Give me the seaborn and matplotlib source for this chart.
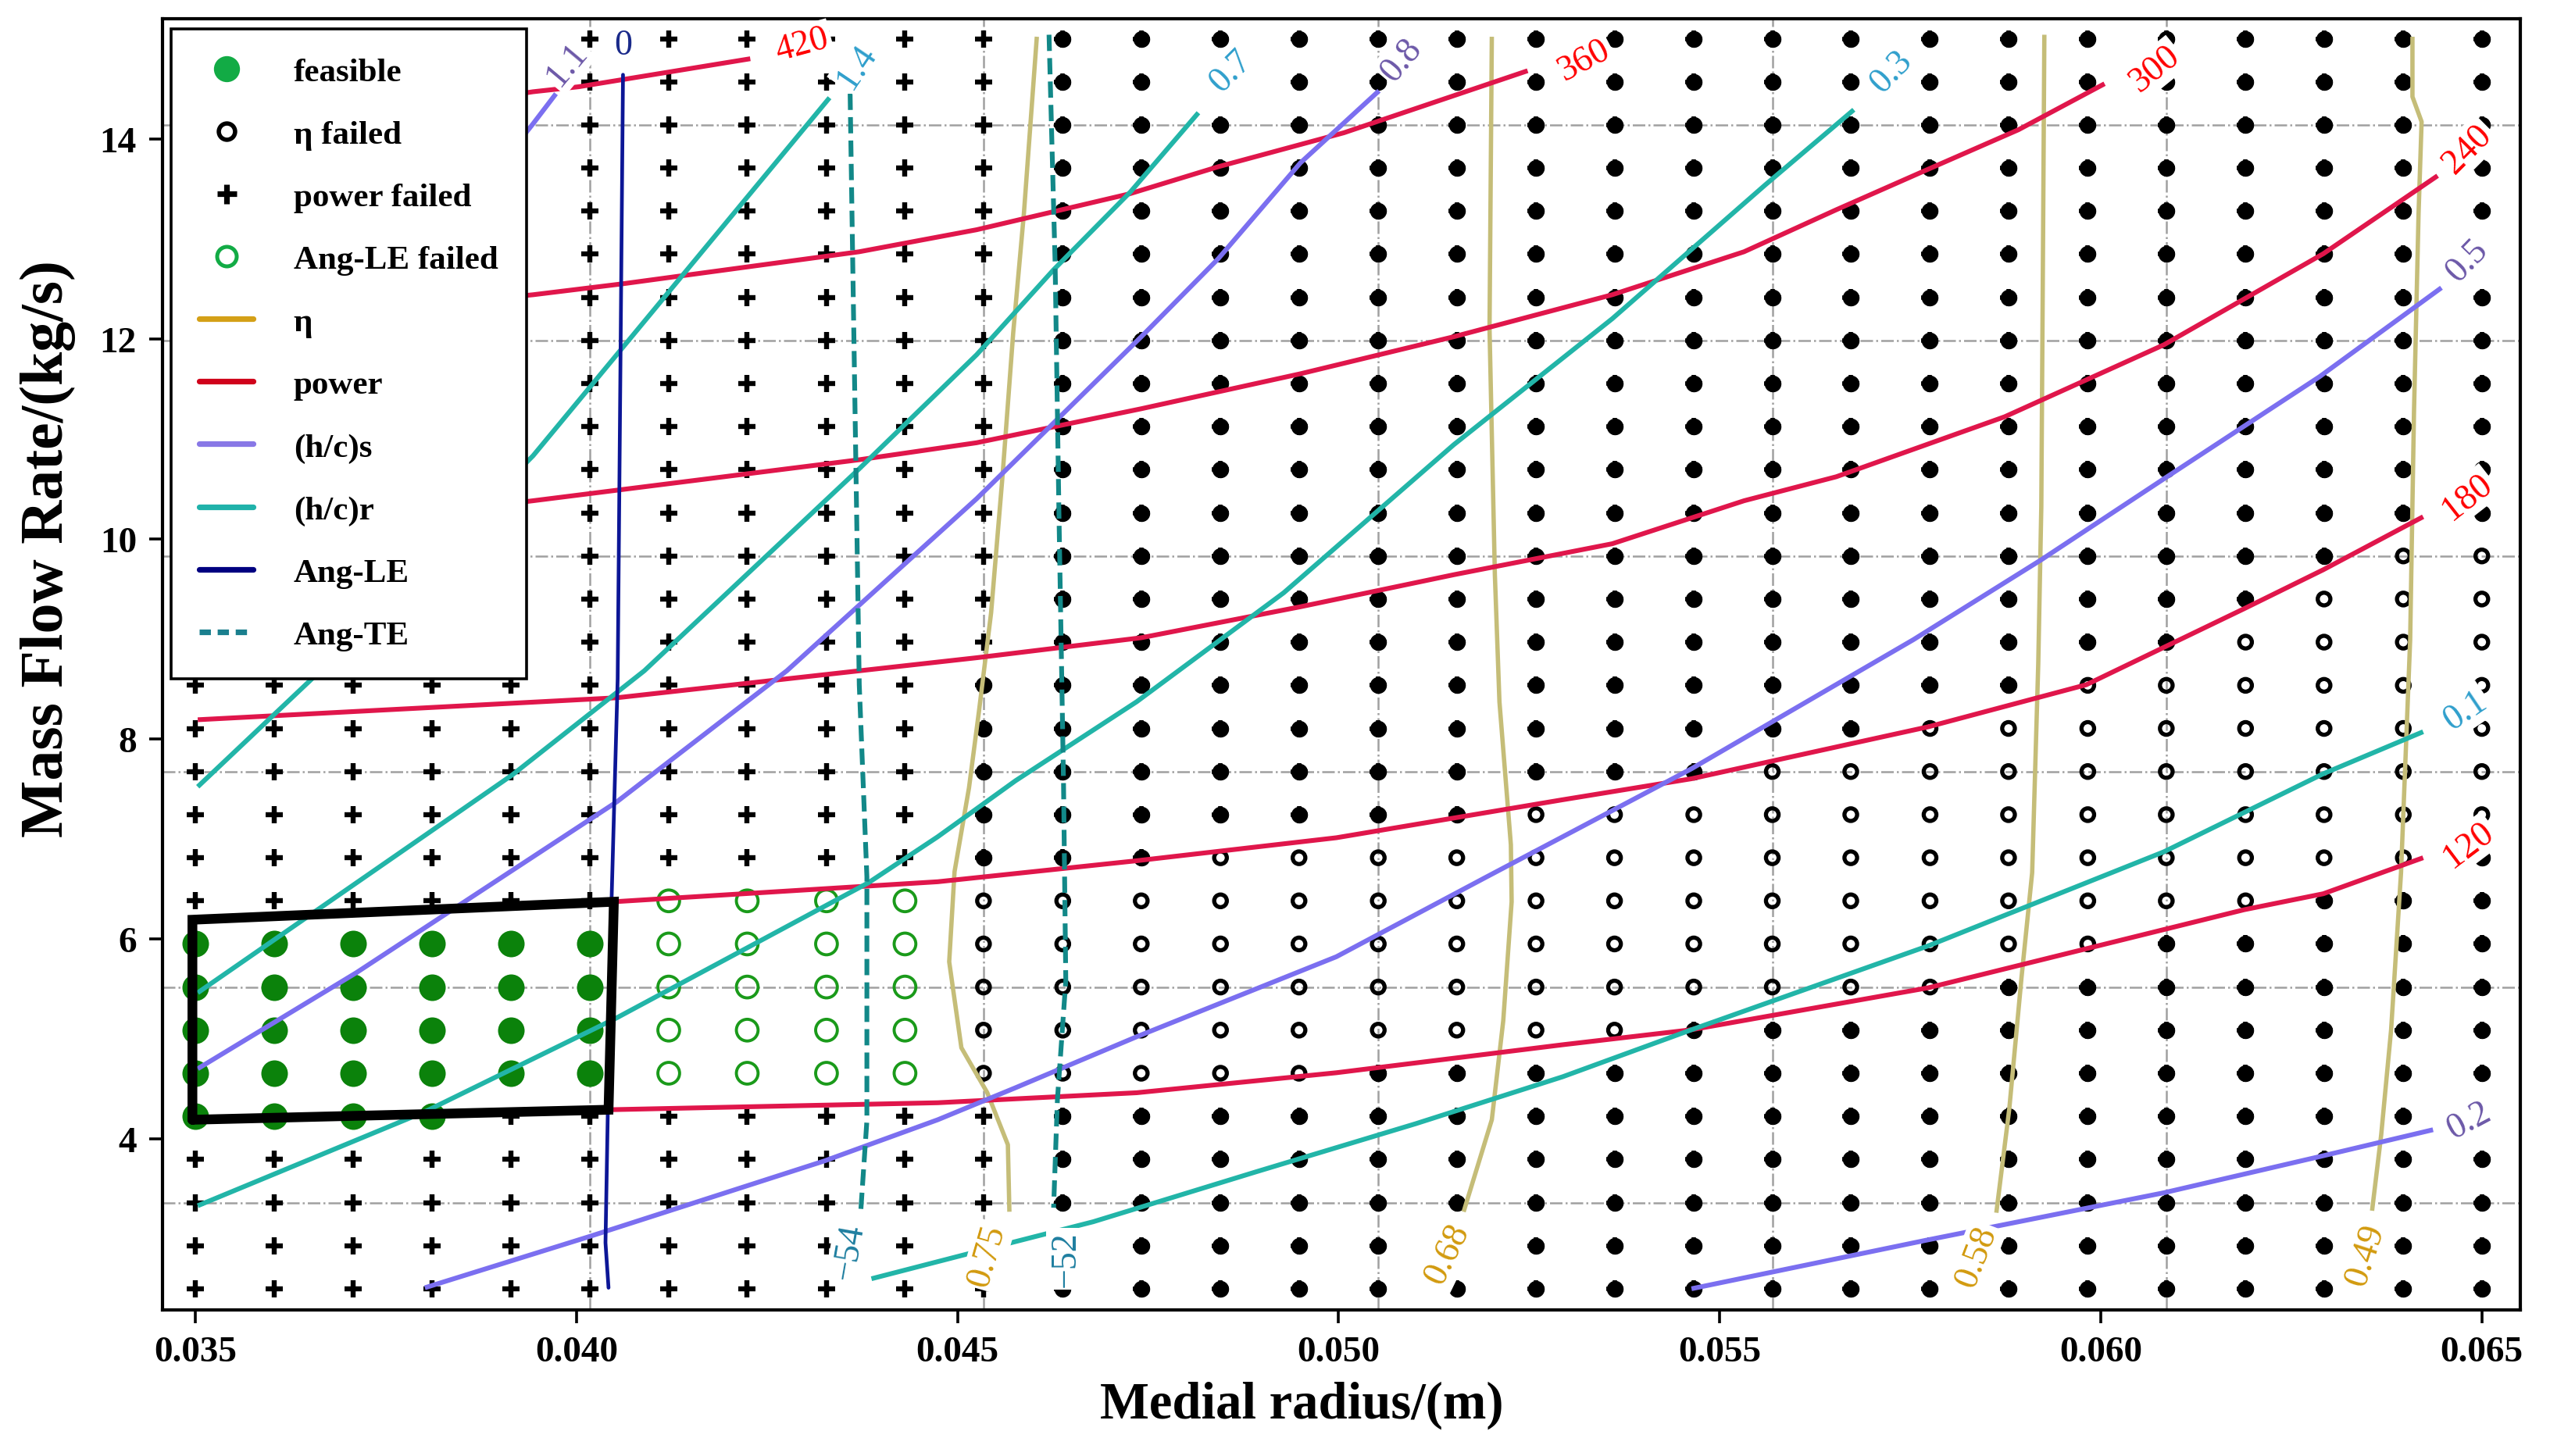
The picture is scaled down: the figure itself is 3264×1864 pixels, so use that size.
import numpy as np
import pandas as pd
import matplotlib
matplotlib.use("Agg")
import matplotlib.pyplot as plt
from matplotlib.lines import Line2D
import seaborn as sns


# =========================
# 1. grid of design points
# =========================
RADIUS = [0.03500, 0.03603, 0.03707, 0.03810, 0.03914, 0.04017, 0.04121, 0.04224,
          0.04328, 0.04431, 0.04534, 0.04638, 0.04741, 0.04845, 0.04948, 0.05052,
          0.05155, 0.05259, 0.05362, 0.05466, 0.05569, 0.05672, 0.05776, 0.05879,
          0.05983, 0.06086, 0.06190, 0.06293, 0.06397, 0.06500]
MASS_FLOW = [2.500, 2.931, 3.362, 3.793, 4.224, 4.655, 5.086, 5.517, 5.948, 6.379,
             6.810, 7.241, 7.672, 8.103, 8.534, 8.966, 9.397, 9.828, 10.259, 10.690,
             11.121, 11.552, 11.983, 12.414, 12.845, 13.276, 13.707, 14.138, 14.569, 15.000]

# status of each point, top row (15 kg/s) first, radius left -> right
# F feasible, E eta failed, P power failed, A Ang-LE failed, B eta + power failed
STATUS_ROWS = [
    "PPPPPPPPPPPBBBBBBBBBBBBBBBBBBB",
    "PPPPPPPPPPPBBBBBBBBBBBBBBBBBBB",
    "PPPPPPPPPPPBBBBBBBBBBBBBBBBBBB",
    "PPPPPPPPPPPBBBBBBBBBBBBBBBBBBB",
    "PPPPPPPPPPPBBBBBBBBBBBBBBBBBBB",
    "PPPPPPPPPPPBBBBBBBBBBBBBBBBBBB",
    "PPPPPPPPPPPBBBBBBBBBBBBBBBBBBB",
    "PPPPPPPPPPPBBBBBBBBBBBBBBBBBBB",
    "PPPPPPPPPPPBBBBBBBBBBBBBBBBBBB",
    "PPPPPPPPPPPBBBBBBBBBBBBBBBBBBB",
    "PPPPPPPPPPPBBBBBBBBBBBBBBBBBBB",
    "PPPPPPPPPPPBBBBBBBBBBBBBBBBBBB",
    "PPPPPPPPPPPBBBBBBBBBBBBBBBBBEE",
    "PPPPPPPPPPPBBBBBBBBBBBBBBBBEEE",
    "PPPPPPPPPPPBBBBBBBBBBBBBBBEEEE",
    "PPPPPPPPPPBBBBBBBBBBBBBBEEEEEE",
    "PPPPPPPPPPBBBBBBBBBBBBEEEEEEEE",
    "PPPPPPPPPPBBBBBBBBBBEEEEEEEEEE",
    "PPPPPPPPPPBBBBBBBEEEEEEEEEEEEE",
    "PPPPPPPPPPBBBEEEEEEEEEEEEEEEEB",
    "PPPPPPAAAAEEEEEEEEEEEEEEEEEBBB",
    "FFFFFFAAAAEEEEEEEEEEEEEEEBBBBB",
    "FFFFFFAAAAEEEEEEEEEEEEEBBBBBBB",
    "FFFFFFAAAAEEEEEEEEEBBBBBBBBBBB",
    "FFFFFFAAAAEEEEEBBBBBBBBBBBBBBB",
    "FFFFPPPPPPPBBBBBBBBBBBBBBBBBBB",
    "PPPPPPPPPPPBBBBBBBBBBBBBBBBBBB",
    "PPPPPPPPPPPBBBBBBBBBBBBBBBBBBB",
    "PPPPPPPPPPPBBBBBBBBBBBBBBBBBBB",
    "PPPPPPPPPPPBBBBBBBBBBBBBBBBBBB",
]

# =========================
# 2. contour lines
# =========================
POWER_LEVELS = ["420", "360", "300", "240", "180", "120"]
POWER_X = [
    [0.0350, 0.03735, 0.03943, 0.04003, 0.04228],
    [0.0350, 0.03943, 0.04061, 0.04371, 0.04525, 0.04726, 0.04842, 0.05007, 0.05248],
    [0.0350, 0.03943, 0.04371, 0.04525, 0.04741, 0.04950, 0.05151, 0.05359, 0.05532,
     0.05653, 0.05772, 0.05892, 0.06005],
    [0.03503, 0.04053, 0.04525, 0.04741, 0.04950, 0.05151, 0.05359, 0.05532, 0.05653,
     0.05874, 0.06083, 0.06292, 0.06442],
    [0.0350, 0.04049, 0.04474, 0.04735, 0.04997, 0.05294, 0.05463, 0.05774, 0.05981,
     0.06188, 0.06292, 0.06423],
    [0.0350, 0.04042, 0.04474, 0.04735, 0.04997, 0.05294, 0.05463, 0.05774, 0.05981,
     0.06188, 0.06292, 0.06423],
]
POWER_Y = [
    [13.97, 14.23, 14.47, 14.52, 14.80],
    [12.10, 12.44, 12.55, 12.87, 13.09, 13.45, 13.72, 14.06, 14.68],
    [9.97, 10.38, 10.79, 10.96, 11.30, 11.65, 12.02, 12.44, 12.87, 13.29, 13.69, 14.09, 14.55],
    [8.19, 8.41, 8.81, 9.01, 9.32, 9.64, 9.95, 10.38, 10.62, 11.22, 11.94, 12.85, 13.63],
    [6.19, 6.37, 6.57, 6.78, 7.01, 7.39, 7.60, 8.12, 8.54, 9.30, 9.69, 10.22],
    [4.19, 4.29, 4.36, 4.46, 4.66, 4.94, 5.09, 5.51, 5.90, 6.29, 6.45, 6.81],
]

HCS_LEVELS = ["1.1", "0.8", "0.5", "0.2"]
HCS_X = [
    [0.0350, 0.03735, 0.03943, 0.03973],
    [0.03503, 0.03711, 0.04053, 0.04276, 0.04525, 0.04741, 0.04842, 0.04950, 0.05053],
    [0.03801, 0.04016, 0.04326, 0.04474, 0.04576, 0.04735, 0.04997, 0.05192, 0.05294,
     0.05463, 0.05754, 0.05922, 0.06083, 0.06287, 0.06447],
    [0.05463, 0.05774, 0.06083, 0.06292, 0.06436],
]
HCS_Y = [
    [10.11, 12.16, 14.15, 14.45],
    [4.70, 5.66, 7.37, 8.68, 10.40, 12.02, 12.80, 13.76, 14.48],
    [2.51, 3.02, 3.78, 4.19, 4.51, 5.02, 5.82, 6.61, 7.02, 7.70, 8.99, 9.79, 10.60, 11.62, 12.51],
    [2.50, 2.99, 3.46, 3.83, 4.09],
]

HCR_LEVELS = ["1.4", "0.7", "0.3", "0.1"]
HCR_X = [
    [0.03503, 0.03664, 0.03943, 0.04332],
    [0.03503, 0.03916, 0.04089, 0.04371, 0.04525, 0.04626, 0.04727, 0.04816],
    [0.03503, 0.03801, 0.04053, 0.04383, 0.04474, 0.04576, 0.04735, 0.04928, 0.05151,
     0.05359, 0.05560, 0.05676],
    [0.04387, 0.04509, 0.04565, 0.04678, 0.04892, 0.05101, 0.05294, 0.05463, 0.05774,
     0.06083, 0.06292, 0.06423],
]
HCR_Y = [
    [7.52, 8.68, 10.83, 14.41],
    [5.46, 7.64, 8.68, 10.70, 11.84, 12.69, 13.47, 14.26],
    [3.33, 4.27, 5.21, 6.56, 7.02, 7.58, 8.37, 9.46, 10.94, 12.20, 13.54, 14.29],
    [2.60, 2.84, 2.95, 3.17, 3.67, 4.15, 4.62, 5.09, 5.93, 6.87, 7.65, 8.07],
]

ETA_LEVELS = ["0.75", "0.68", "0.58", "0.49"]
ETA_X = [
    [0.04604, 0.04587, 0.04573, 0.04559, 0.04544, 0.04528, 0.04515, 0.04496, 0.04489,
     0.04505, 0.04539, 0.04566, 0.04568],
    [0.05201, 0.05198, 0.05205, 0.05211, 0.05226, 0.05227, 0.05216, 0.05201, 0.05164],
    [0.05926, 0.05924, 0.05922, 0.05918, 0.05910, 0.05896, 0.05880, 0.05863],
    [0.06409, 0.06409, 0.06421, 0.06417, 0.06411, 0.06406, 0.06394, 0.06381, 0.06368, 0.06356],
]
ETA_Y = [
    [15.02, 13.25, 12.06, 10.63, 9.26, 8.27, 7.51, 6.67, 5.77, 4.91, 4.46, 3.94, 3.27],
    [15.02, 12.10, 9.64, 8.37, 6.94, 6.37, 5.18, 4.19, 3.27],
    [15.04, 12.63, 10.32, 8.75, 6.66, 5.61, 4.30, 3.26],
    [15.02, 14.42, 14.17, 13.25, 11.26, 8.99, 6.66, 5.09, 4.04, 3.28],
]

ANGLE_LEVELS = ["0"]
ANGLE_LE_X = [0.04042, 0.04038, 0.04046, 0.04054, 0.04061]
ANGLE_LE_Y = [2.51, 2.96, 6.39, 8.60, 14.64]

ANGTE_LEVELS = ["\u221254", "\u221252"]
ANGTE_X = [
    [0.04359, 0.04367, 0.04371, 0.04381, 0.04381, 0.04373],
    [0.04620, 0.04628, 0.04633, 0.04639, 0.04642, 0.04631, 0.04626],
]
ANGTE_Y = [
    [14.45, 10.52, 8.54, 6.62, 4.18, 3.28],
    [15.04, 12.75, 10.26, 7.57, 5.58, 4.39, 3.31],
]

# chosen design window
BOX_X = [0.03496, 0.04042, 0.04049, 0.03496, 0.03496]
BOX_Y = [4.19, 4.29, 6.37, 6.19, 4.19]

# =========================
# 3. styles and label layout
# =========================
C_POWER, C_HCS, C_HCR = "#e0164b", "#7b6ff0", "#22b5a8"
C_ETA, C_LE, C_TE = "#c5bd78", "#0c1696", "#128888"
T_POWER, T_HCS, T_HCR = "#ff0000", "#6c58a8", "#2f9fcc"
T_ETA, T_LE, T_TE = "#d29a0e", "#1a2a8a", "#1f7fa0"

# where the inline contour labels sit, and their angle
POWER_LAB = [(0.04296, 14.94, 15), (0.05322, 14.79, 28), (0.06071, 14.70, 39),
             (0.06481, 13.90, 45), (0.06481, 10.42, 38), (0.06483, 6.94, 37)]
HCS_LAB = [(0.03987, 14.75, 50), (0.05083, 14.79, 50), (0.06481, 12.78, 46),
           (0.06483, 4.18, 28)]
HCR_LAB = [(0.04368, 14.72, 56), (0.04859, 14.68, 45), (0.05725, 14.67, 46),
           (0.06478, 8.28, 34)]
ETA_LAB = [(0.04539, 2.83, 74), (0.05143, 2.85, 64), (0.05837, 2.82, 69),
           (0.06348, 2.84, 72)]
ANGTE_LAB = [(0.04358, 2.88, 80), (0.04642, 2.80, 90)]
ANGLE_LAB = [(0.04061, 14.94, 0)]

sns.set_theme(style="ticks")
plt.rcParams["font.family"] = ["Liberation Serif", "DejaVu Serif"]
plt.rcParams["text.color"] = "black"
plt.rcParams["axes.labelcolor"] = "black"
plt.rcParams["axes.edgecolor"] = "black"
plt.rcParams["axes.linewidth"] = 1.5


def put_labels(ax, levels, spots, color, fs=16.5):
    for lev, (lx, ly, rot) in zip(levels, spots):
        ax.text(lx, ly, lev, rotation=rot, rotation_mode="anchor", ha="center",
                va="center", color=color, fontsize=fs, zorder=6,
                bbox=dict(boxstyle="square,pad=0.08", fc="white", ec="none"))


def draw_family(ax, xs_list, ys_list, color, lw=2.2, ls="-"):
    for xs, ys in zip(xs_list, ys_list):
        ax.plot(xs, ys, color=color, lw=lw, ls=ls, zorder=3, solid_capstyle="butt")


# =========================
# 4. figure
# =========================
def main():
    fig = plt.figure(figsize=(16.32, 9.325), dpi=200)
    ax = fig.add_axes([0.0638, 0.1004, 0.9247, 0.8862])
    ax.set_xlim(0.03457, 0.06551)
    ax.set_ylim(2.29, 15.20)

    rows = []
    for r, line in enumerate(STATUS_ROWS):
        yv = MASS_FLOW[len(MASS_FLOW) - 1 - r]
        for c, s in enumerate(line):
            rows.append({"radius": RADIUS[c], "flow": yv, "status": s})
    df = pd.DataFrame(rows)

    def pts(code):
        return df[df["status"] == code]

    sns.scatterplot(data=pts("F"), x="radius", y="flow", marker="o", s=150,
                    color="#0b820b", edgecolor="#0b820b", linewidth=0, ax=ax, zorder=2, legend=False)
    sns.scatterplot(data=pts("A"), x="radius", y="flow", marker="o", s=100, color="#1a9a1a",
                    facecolor="none", edgecolor="#1a9a1a", linewidth=1.4, ax=ax, zorder=2, legend=False)
    sns.scatterplot(data=pts("E"), x="radius", y="flow", marker="o", s=34, color="black",
                    facecolor="none", edgecolor="black", linewidth=1.9, ax=ax, zorder=2, legend=False)
    sns.scatterplot(data=pts("P"), x="radius", y="flow", marker="+", s=60, color="black",
                    edgecolor="black", linewidth=2.3, ax=ax, zorder=2, legend=False)
    both = pts("B")
    sns.scatterplot(data=both, x="radius", y="flow", marker="o", s=52, color="black",
                    edgecolor="black", linewidth=0.5, ax=ax, zorder=2, legend=False)
    sns.scatterplot(data=both, x="radius", y="flow", marker="+", s=58, color="black",
                    edgecolor="black", linewidth=2.0, ax=ax, zorder=2, legend=False)

    # contour lines and their labels
    draw_family(ax, ETA_X, ETA_Y, C_ETA, lw=2.0)
    draw_family(ax, POWER_X, POWER_Y, C_POWER)
    draw_family(ax, HCS_X, HCS_Y, C_HCS)
    draw_family(ax, HCR_X, HCR_Y, C_HCR)
    ax.plot(ANGLE_LE_X, ANGLE_LE_Y, color=C_LE, lw=1.7, zorder=3)
    draw_family(ax, ANGTE_X, ANGTE_Y, C_TE, lw=2.2, ls=(0, (3.4, 1.5)))

    put_labels(ax, ETA_LEVELS, ETA_LAB, T_ETA)
    put_labels(ax, POWER_LEVELS, POWER_LAB, T_POWER)
    put_labels(ax, HCS_LEVELS, HCS_LAB, T_HCS)
    put_labels(ax, HCR_LEVELS, HCR_LAB, T_HCR)
    put_labels(ax, ANGLE_LEVELS, ANGLE_LAB, T_LE)
    put_labels(ax, ANGTE_LEVELS, ANGTE_LAB, T_TE)

    ax.plot(BOX_X, BOX_Y, color="black", lw=4.5, zorder=4, solid_joinstyle="miter")

    # grid through every fifth point
    ax.set_xticks(RADIUS[::5], minor=True)
    ax.set_yticks(MASS_FLOW[2::5], minor=True)
    ax.grid(which="minor", color="#a0a0a0", ls="-.", lw=0.9)
    ax.grid(which="major", visible=False)
    ax.set_axisbelow(True)

    ax.set_xticks([0.035, 0.040, 0.045, 0.050, 0.055, 0.060, 0.065])
    ax.set_xticklabels(["0.035", "0.040", "0.045", "0.050", "0.055", "0.060", "0.065"])
    ax.set_yticks([4, 6, 8, 10, 12, 14])
    ax.tick_params(which="major", direction="out", length=6, width=1.3, pad=6,
                   labelsize=17, colors="black")
    ax.tick_params(which="minor", length=0)
    for lab in ax.get_xticklabels() + ax.get_yticklabels():
        lab.set_fontweight("bold")

    for sp in ax.spines.values():
        sp.set_visible(True)
        sp.set_color("black")
        sp.set_linewidth(1.5)

    ax.set_xlabel("Medial radius/(m)", fontsize=24, fontweight="bold")
    ax.set_ylabel("Mass Flow Rate/(kg/s)", fontsize=28, fontweight="bold")
    ax.xaxis.set_label_coords(0.483, -0.055)
    ax.yaxis.set_label_coords(-0.037, 0.59)

    handles = [
        Line2D([], [], ls="", marker="o", ms=11, mfc="#12ab45", mec="#12ab45"),
        Line2D([], [], ls="", marker="o", ms=7.5, mfc="none", mec="black", mew=2),
        Line2D([], [], ls="", marker="+", ms=9, color="black", mew=2.6),
        Line2D([], [], ls="", marker="o", ms=9, mfc="none", mec="#12ab45", mew=1.8),
        Line2D([], [], color="#d4a017", lw=2.6),
        Line2D([], [], color="#d0021b", lw=2.6),
        Line2D([], [], color="#8878e6", lw=2.6),
        Line2D([], [], color="#20b2aa", lw=2.6),
        Line2D([], [], color="#000080", lw=2.6),
        Line2D([], [], color="#1a7f8e", lw=2.6, ls=(0, (2, 1.2))),
    ]
    labels = ["feasible", "\u03b7 failed", "power failed", "Ang-LE failed", "\u03b7",
              "power", "(h/c)s", "(h/c)r", "Ang-LE", "Ang-TE"]
    leg = ax.legend(handles, labels, loc="upper left", bbox_to_anchor=(0.0034, 0.9924),
                    borderaxespad=0, frameon=True, fancybox=False, framealpha=1,
                    edgecolor="black", labelspacing=0.95, handlelength=1.6,
                    handletextpad=1.2, borderpad=0.85,
                    prop={"weight": "bold", "size": 15.5})
    leg.get_frame().set_linewidth(1.3)
    leg.set_zorder(10)

    fig.savefig("out.png", dpi=200)


if __name__ == "__main__":
    main()
